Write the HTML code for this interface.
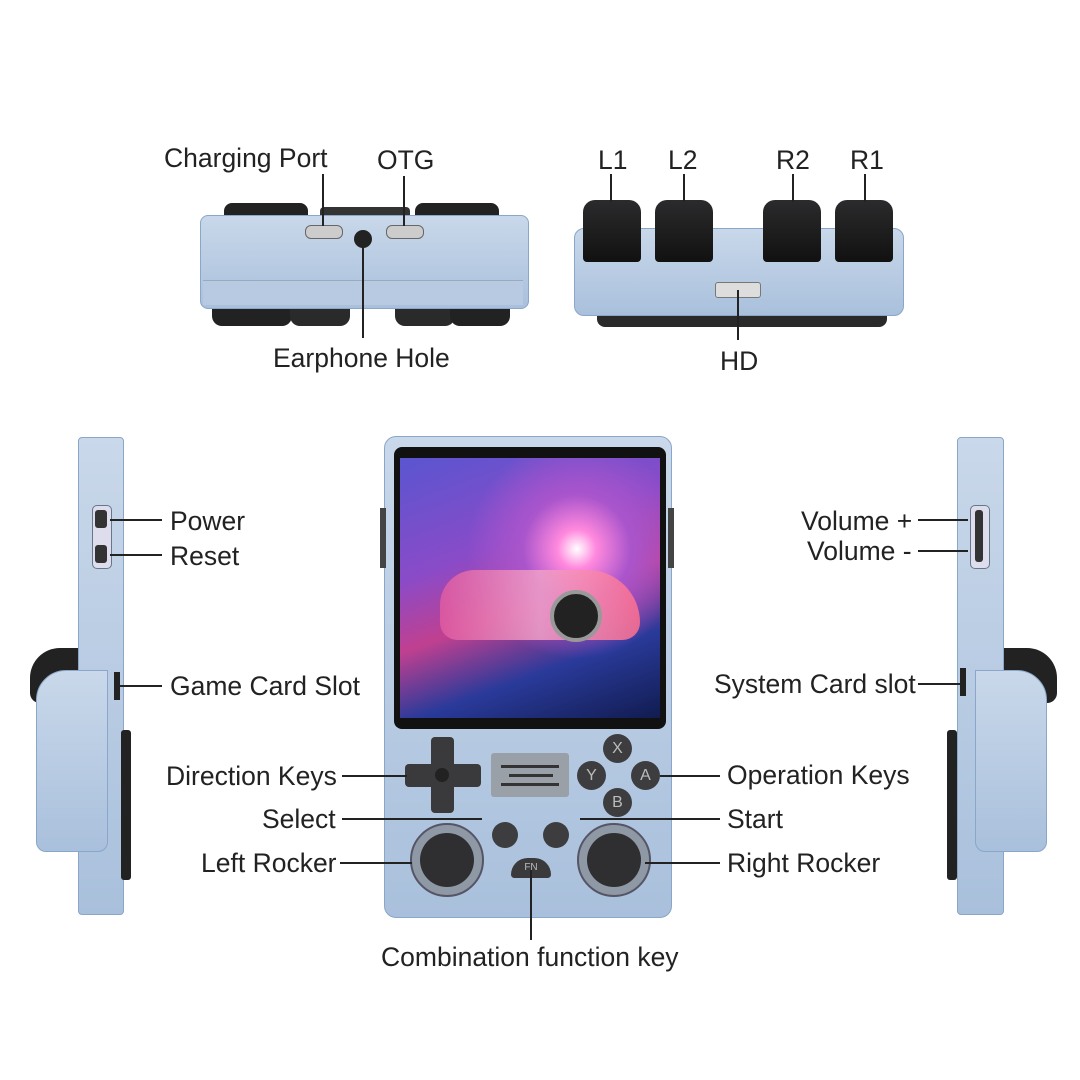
<!DOCTYPE html>
<html><head><meta charset="utf-8"><style>
body{margin:0;width:1080px;height:1080px;background:#fff;position:relative;overflow:hidden;font-family:"Liberation Sans",sans-serif;}
.a{position:absolute;}
.t{position:absolute;font-size:26.5px;color:#222;white-space:nowrap;line-height:1;}
.l{position:absolute;background:#222;}
.blue{background:linear-gradient(180deg,#c9d8ea,#a9c0dc);border:1px solid #8aa6c8;}
.btn{position:absolute;border-radius:50%;background:#3d3d3f;color:#bbb;font-size:16px;text-align:center;}
.k{position:absolute;background:linear-gradient(180deg,#2b2b2d,#111);border-radius:12px 12px 4px 4px;}
</style></head><body>

<!-- top left device -->
<div class="a" style="left:224px;top:203px;width:84px;height:18px;background:#222;border-radius:8px 8px 0 0"></div>
<div class="a" style="left:415px;top:203px;width:84px;height:18px;background:#222;border-radius:8px 8px 0 0"></div>
<div class="a" style="left:320px;top:207px;width:90px;height:12px;background:#333;border-radius:4px"></div>
<div class="a" style="left:212px;top:302px;width:80px;height:24px;background:#222;border-radius:0 0 10px 10px"></div>
<div class="a" style="left:290px;top:302px;width:60px;height:24px;background:#2a2a2a;border-radius:0 0 10px 10px"></div>
<div class="a" style="left:395px;top:302px;width:60px;height:24px;background:#2a2a2a;border-radius:0 0 10px 10px"></div>
<div class="a" style="left:450px;top:302px;width:60px;height:24px;background:#222;border-radius:0 0 10px 10px"></div>
<div class="a blue" style="left:200px;top:215px;width:327px;height:92px;border-radius:8px"></div>
<div class="a" style="left:203px;top:280px;width:320px;height:24px;background:#b7cae2;border-top:1px solid #9ab"></div>
<div class="a" style="left:305px;top:225px;width:36px;height:12px;background:#ccc;border:1px solid #666;border-radius:6px"></div>
<div class="a" style="left:386px;top:225px;width:36px;height:12px;background:#ccc;border:1px solid #666;border-radius:6px"></div>
<div class="a" style="left:354px;top:230px;width:18px;height:18px;background:#222;border-radius:50%"></div>

<!-- top right device -->
<div class="a" style="left:597px;top:305px;width:290px;height:22px;background:#2a2a2a;border-radius:0 0 8px 8px"></div>
<div class="a blue" style="left:574px;top:228px;width:328px;height:86px;border-radius:10px"></div>
<div class="a" style="left:715px;top:282px;width:44px;height:14px;background:#ddd;border:1px solid #777;border-radius:3px"></div>
<div class="k" style="left:583px;top:200px;width:58px;height:62px"></div>
<div class="k" style="left:655px;top:200px;width:58px;height:62px"></div>
<div class="k" style="left:763px;top:200px;width:58px;height:62px"></div>
<div class="k" style="left:835px;top:200px;width:58px;height:62px"></div>

<!-- top labels -->
<div class="t" style="left:164px;top:145px">Charging Port</div>
<div class="t" style="left:377px;top:147px">OTG</div>
<div class="t" style="left:273px;top:345px">Earphone Hole</div>
<div class="t" style="left:598px;top:147px">L1</div>
<div class="t" style="left:668px;top:147px">L2</div>
<div class="t" style="left:776px;top:147px">R2</div>
<div class="t" style="left:850px;top:147px">R1</div>
<div class="t" style="left:720px;top:348px">HD</div>
<div class="l" style="left:322px;top:174px;width:2px;height:52px"></div>
<div class="l" style="left:403px;top:176px;width:2px;height:50px"></div>
<div class="l" style="left:362px;top:240px;width:2px;height:98px"></div>
<div class="l" style="left:610px;top:174px;width:2px;height:28px"></div>
<div class="l" style="left:683px;top:174px;width:2px;height:28px"></div>
<div class="l" style="left:792px;top:174px;width:2px;height:28px"></div>
<div class="l" style="left:864px;top:174px;width:2px;height:28px"></div>
<div class="l" style="left:737px;top:290px;width:2px;height:50px"></div>

<!-- left side view -->
<div class="a" style="left:30px;top:648px;width:48px;height:55px;background:#222;border-radius:30px 0 0 10px"></div>
<div class="a blue" style="left:78px;top:437px;width:44px;height:476px;border-radius:4px"></div>
<div class="a blue" style="left:36px;top:670px;width:70px;height:180px;border-radius:30px 0 10px 10px"></div>
<div class="a" style="left:121px;top:730px;width:10px;height:150px;background:#222;border-radius:3px"></div>
<div class="a" style="left:92px;top:505px;width:18px;height:62px;background:#dde;border:1px solid #678;border-radius:5px"></div>
<div class="a" style="left:95px;top:510px;width:12px;height:18px;background:#333;border-radius:3px"></div>
<div class="a" style="left:95px;top:545px;width:12px;height:18px;background:#333;border-radius:3px"></div>
<div class="a" style="left:114px;top:672px;width:6px;height:28px;background:#222"></div>

<!-- right side view -->
<div class="a" style="left:1003px;top:648px;width:54px;height:55px;background:#222;border-radius:0 30px 10px 0"></div>
<div class="a blue" style="left:957px;top:437px;width:45px;height:476px;border-radius:4px"></div>
<div class="a blue" style="left:975px;top:670px;width:70px;height:180px;border-radius:0 30px 10px 10px"></div>
<div class="a" style="left:947px;top:730px;width:10px;height:150px;background:#222;border-radius:3px"></div>
<div class="a" style="left:970px;top:505px;width:18px;height:62px;background:#dde;border:1px solid #678;border-radius:5px"></div>
<div class="a" style="left:975px;top:510px;width:8px;height:52px;background:#333;border-radius:3px"></div>
<div class="a" style="left:960px;top:668px;width:6px;height:28px;background:#222"></div>

<!-- main device -->
<div class="a blue" style="left:384px;top:436px;width:286px;height:480px;border-radius:12px"></div>
<div class="a" style="left:380px;top:508px;width:6px;height:60px;background:#444"></div>
<div class="a" style="left:668px;top:508px;width:6px;height:60px;background:#444"></div>
<div class="a" style="left:394px;top:447px;width:272px;height:282px;background:#111;border-radius:8px"></div>
<div class="a" style="left:400px;top:458px;width:260px;height:260px;background:radial-gradient(circle at 68% 35%,#fff 0,#f8d 8%,#a5c 22%,transparent 45%),linear-gradient(160deg,#5a55d0,#8a4bc8 35%,#c04090 55%,#2a3a9a 75%,#111c50);"></div>
<div class="a" style="left:440px;top:570px;width:200px;height:70px;background:linear-gradient(90deg,#e05aa0,#f0a0c8,#ff7090);border-radius:40px 60px 20px 20px;opacity:.85"></div>
<div class="a" style="left:550px;top:590px;width:44px;height:44px;border-radius:50%;background:#222;border:4px solid #999"></div>
<!-- dpad -->
<div class="a" style="left:431px;top:737px;width:23px;height:76px;background:#3a3a3c;border-radius:4px"></div>
<div class="a" style="left:405px;top:764px;width:76px;height:23px;background:#3a3a3c;border-radius:4px"></div>
<div class="a" style="left:435px;top:768px;width:14px;height:14px;background:#222;border-radius:50%"></div>
<!-- speaker -->
<div class="a" style="left:491px;top:753px;width:78px;height:44px;background:#9aa0a8;border-radius:3px"></div>
<div class="a" style="left:501px;top:765px;width:58px;height:3px;background:#333"></div>
<div class="a" style="left:509px;top:774px;width:44px;height:3px;background:#333"></div>
<div class="a" style="left:501px;top:783px;width:58px;height:3px;background:#333"></div>
<!-- face buttons -->
<div class="btn" style="left:603px;top:734px;width:29px;height:29px;line-height:29px">X</div>
<div class="btn" style="left:577px;top:761px;width:29px;height:29px;line-height:29px">Y</div>
<div class="btn" style="left:631px;top:761px;width:29px;height:29px;line-height:29px">A</div>
<div class="btn" style="left:603px;top:788px;width:29px;height:29px;line-height:29px">B</div>
<div class="btn" style="left:492px;top:822px;width:26px;height:26px"></div>
<div class="btn" style="left:543px;top:822px;width:26px;height:26px"></div>
<!-- sticks -->
<div class="a" style="left:410px;top:823px;width:70px;height:70px;border-radius:50%;background:#8f99a6;border:2px solid #556"></div>
<div class="a" style="left:420px;top:833px;width:54px;height:54px;border-radius:50%;background:#2f2f31"></div>
<div class="a" style="left:577px;top:823px;width:70px;height:70px;border-radius:50%;background:#8f99a6;border:2px solid #556"></div>
<div class="a" style="left:587px;top:833px;width:54px;height:54px;border-radius:50%;background:#2f2f31"></div>
<div class="a" style="left:511px;top:858px;width:40px;height:20px;background:#3a3a3c;border-radius:20px 20px 4px 4px;color:#bbb;font-size:10px;text-align:center;line-height:20px">FN</div>

<!-- main labels -->
<div class="t" style="left:170px;top:508px">Power</div>
<div class="t" style="left:170px;top:543px">Reset</div>
<div class="t" style="left:170px;top:673px">Game Card Slot</div>
<div class="t" style="left:166px;top:763px">Direction Keys</div>
<div class="t" style="left:262px;top:806px">Select</div>
<div class="t" style="left:201px;top:850px">Left Rocker</div>
<div class="t" style="left:381px;top:944px">Combination function key</div>
<div class="t" style="left:727px;top:762px">Operation Keys</div>
<div class="t" style="left:727px;top:806px">Start</div>
<div class="t" style="left:727px;top:850px">Right Rocker</div>
<div class="t" style="left:801px;top:508px">Volume +</div>
<div class="t" style="left:807px;top:538px">Volume -</div>
<div class="t" style="left:714px;top:671px">System Card slot</div>
<div class="l" style="left:110px;top:519px;width:52px;height:2px"></div>
<div class="l" style="left:110px;top:554px;width:52px;height:2px"></div>
<div class="l" style="left:118px;top:685px;width:44px;height:2px"></div>
<div class="l" style="left:342px;top:775px;width:65px;height:2px"></div>
<div class="l" style="left:342px;top:818px;width:140px;height:2px"></div>
<div class="l" style="left:340px;top:862px;width:72px;height:2px"></div>
<div class="l" style="left:530px;top:870px;width:2px;height:70px"></div>
<div class="l" style="left:660px;top:775px;width:60px;height:2px"></div>
<div class="l" style="left:580px;top:818px;width:140px;height:2px"></div>
<div class="l" style="left:645px;top:862px;width:75px;height:2px"></div>
<div class="l" style="left:918px;top:519px;width:50px;height:2px"></div>
<div class="l" style="left:918px;top:550px;width:50px;height:2px"></div>
<div class="l" style="left:918px;top:683px;width:44px;height:2px"></div>
</body></html>
